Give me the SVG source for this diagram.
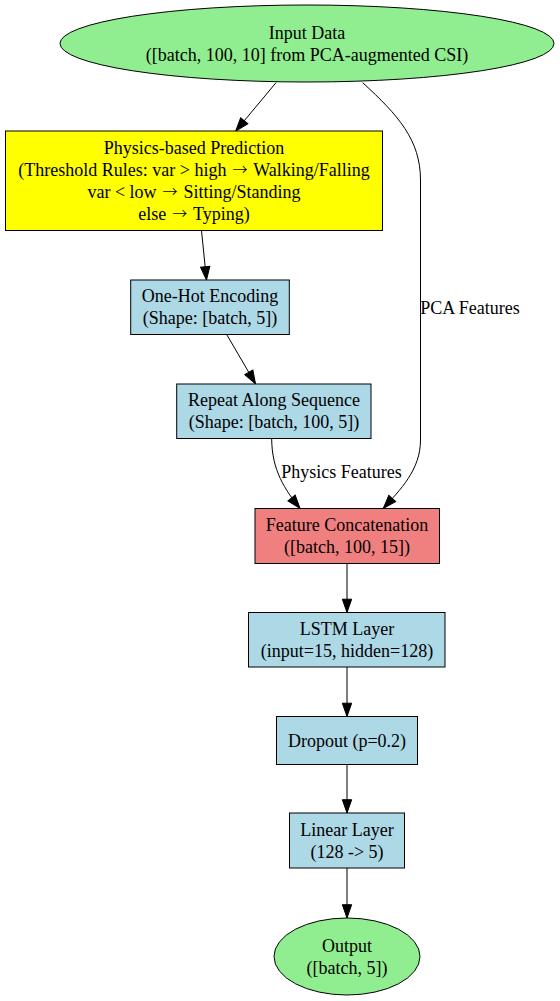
<svg xmlns="http://www.w3.org/2000/svg" width="560" height="1001" viewBox="0 0 560 1001">
<style>
  text { font-family: "Liberation Serif", "Times New Roman", serif; font-size: 18px; fill: #000; text-anchor: middle; }
  .arr { font-family: "Noto Sans CJK SC", "Liberation Serif", sans-serif; font-weight: 300; font-size: 15px; }
  .node { stroke: #000; stroke-width: 1; }
  .green { fill: #90EE90; }
  .yellow { fill: #FFFF00; }
  .blue { fill: #ADD8E6; }
  .coral { fill: #F08080; }
  .edge { fill: none; stroke: #000; stroke-width: 1; }
</style>
<defs>
  <marker id="arrow" markerUnits="userSpaceOnUse" viewBox="0 0 14 10" markerWidth="14" markerHeight="10" refX="13.3" refY="4.67" orient="auto" overflow="visible">
    <path d="M0,0 L13.3,4.67 L0,9.33 z" fill="#000" stroke="#000" stroke-width="1"/>
  </marker>
</defs>
<rect width="560" height="1001" fill="#fff"/>

<g id="connectors">
  <path class="edge" d="M276,82.7 L235.7,131" marker-end="url(#arrow)"/>
  <path class="edge" d="M362.7,82.7 C398,115 420.5,140 420.5,180 L420.5,440 C420.5,470 400,490 383.3,508.3" marker-end="url(#arrow)"/>
  <path class="edge" d="M201.5,230.5 L206.5,280" marker-end="url(#arrow)"/>
  <path class="edge" d="M226.7,334.5 L255.5,383.8" marker-end="url(#arrow)"/>
  <path class="edge" d="M271.7,438.5 C271.7,470 285,490 300,508.3" marker-end="url(#arrow)"/>
  <path class="edge" d="M347,563.5 L347,612.5" marker-end="url(#arrow)"/>
  <path class="edge" d="M347,667 L347,716.5" marker-end="url(#arrow)"/>
  <path class="edge" d="M347,764.5 L347,813" marker-end="url(#arrow)"/>
  <path class="edge" d="M347,868 L347,918" marker-end="url(#arrow)"/>
  <text x="470" y="313.5">PCA Features</text>
  <text x="341.5" y="478.3">Physics Features</text>
</g>

<g id="input">
  <ellipse class="node green" cx="307" cy="43.5" rx="247" ry="38.5"/>
  <text x="307" y="38.5">Input Data</text>
  <text x="307" y="60.5">([batch, 100, 10] from PCA-augmented CSI)</text>
</g>

<g id="physics">
  <rect class="node yellow" x="5.5" y="131" width="377" height="99.5"/>
  <text x="194" y="154">Physics-based Prediction</text>
  <text x="194" y="176">(Threshold Rules: var &gt; high <tspan class="arr" dx="1.5" dy="-1">→</tspan><tspan dx="1.5" dy="1"> Walking/Falling</tspan></text>
  <text x="194" y="198">var &lt; low <tspan class="arr" dx="1.5" dy="-1">→</tspan><tspan dx="1.5" dy="1"> Sitting/Standing</tspan></text>
  <text x="194" y="220">else <tspan class="arr" dx="1.5" dy="-1">→</tspan><tspan dx="1.5" dy="1"> Typing)</tspan></text>
</g>

<g id="onehot">
  <rect class="node blue" x="130.7" y="280" width="158.6" height="54.5"/>
  <text x="210" y="302.3">One-Hot Encoding</text>
  <text x="210" y="324.3">(Shape: [batch, 5])</text>
</g>

<g id="repeat">
  <rect class="node blue" x="176.7" y="384" width="194.3" height="54.5"/>
  <text x="274" y="406.3">Repeat Along Sequence</text>
  <text x="274" y="428.3">(Shape: [batch, 100, 5])</text>
</g>

<g id="concat">
  <rect class="node coral" x="255" y="508.5" width="184.5" height="55"/>
  <text x="347" y="530.5">Feature Concatenation</text>
  <text x="347" y="552.5">([batch, 100, 15])</text>
</g>

<g id="lstm">
  <rect class="node blue" x="248.5" y="612.5" width="196.5" height="54.5"/>
  <text x="347" y="634.7">LSTM Layer</text>
  <text x="347" y="656.7">(input=15, hidden=128)</text>
</g>

<g id="dropout">
  <rect class="node blue" x="276.5" y="716.5" width="141" height="48"/>
  <text x="347" y="746.7">Dropout (p=0.2)</text>
</g>

<g id="linear">
  <rect class="node blue" x="289.5" y="813" width="115" height="55"/>
  <text x="347" y="835.5">Linear Layer</text>
  <text x="347" y="857.5">(128 -&gt; 5)</text>
</g>

<g id="output">
  <ellipse class="node green" cx="347" cy="956.5" rx="73" ry="38.5"/>
  <text x="347" y="951.7">Output</text>
  <text x="347" y="973.7">([batch, 5])</text>
</g>
</svg>
